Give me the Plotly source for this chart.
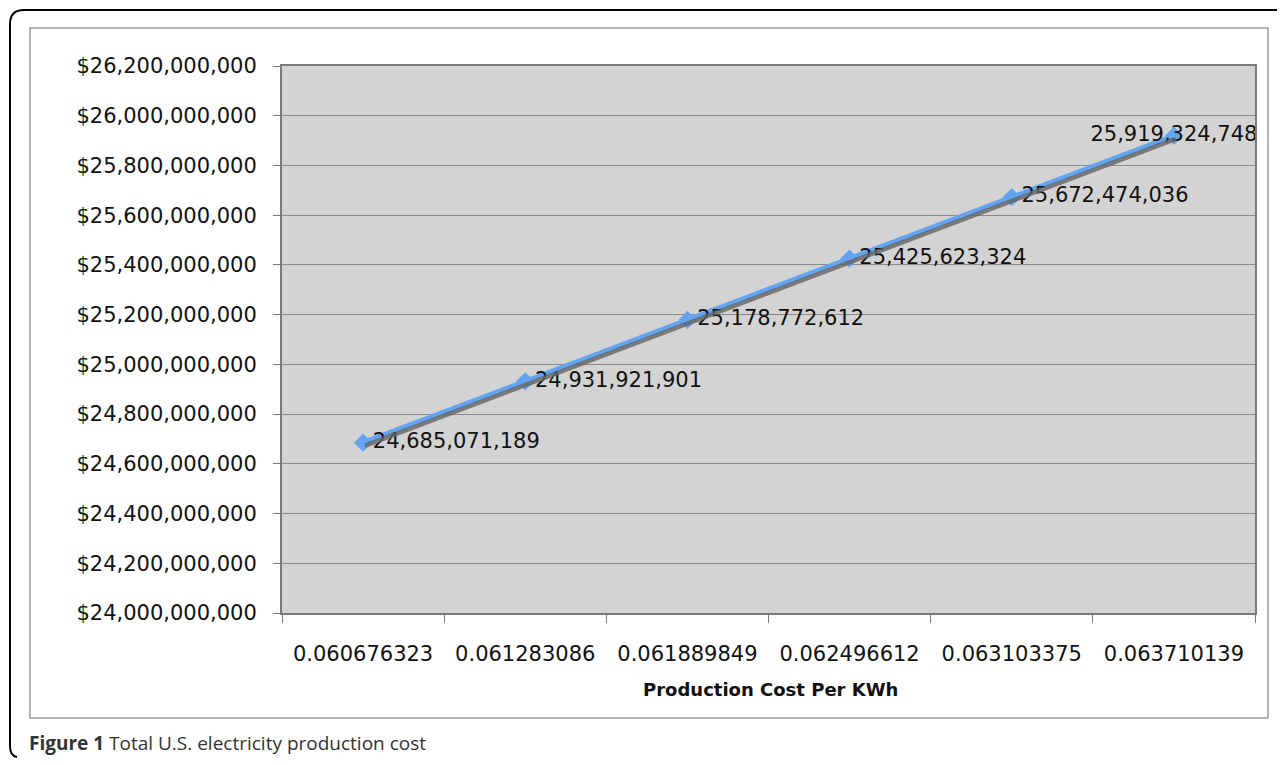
import plotly.graph_objects as go

# ---- data ----
categories = ["0.060676323", "0.061283086", "0.061889849", "0.062496612", "0.063103375", "0.063710139"]
total_cost = [24685071189, 24931921901, 25178772612, 25425623324, 25672474036, 25919324748]
label_pos = ["middle right", "middle right", "middle right", "middle right", "middle right", "middle center"]
x_title = "Production Cost Per KWh"
caption_bold = "Figure 1"
caption_text = "Total U.S. electricity production cost"

# ---- geometry (pixels, in screenshot coordinates) ----
OFF = 8                            # page body margin
W, H = 1285 - OFF, 765 - OFF       # figure size
L, R, T, B = 282, 1257, 66, 616    # outer extent of plot area incl. shadow offset
SX, SY = 2, 3                      # shadow offset
pw, ph = R - L, B - T

def px(x):
    return (x - L) / pw

def py(y):
    return (B - y) / ph

font_main = "DejaVu Sans"
blue = "#62A4F2"
grid = "#8a8a8a"

fig = go.Figure()

# shadow trace (second subplot offset by a few pixels)
fig.add_trace(go.Scatter(
    x=categories, y=total_cost, mode="lines",
    line=dict(color="rgba(100,100,100,0.8)", width=4.5),
    xaxis="x2", yaxis="y2", hoverinfo="skip", showlegend=False,
))
# main trace
fig.add_trace(go.Scatter(
    x=categories, y=total_cost, mode="lines+markers+text",
    line=dict(color=blue, width=5),
    marker=dict(symbol="diamond", size=14, color=blue),
    text=[f"{v:,}" for v in total_cost],
    textposition=label_pos,
    textfont=dict(family=font_main, size=21, color="#111111"),
    showlegend=False,
))

fig.update_layout(
    width=W, height=H,
    margin=dict(l=L - OFF, r=1285 - R, t=T - OFF, b=765 - B),
    paper_bgcolor="white",
    plot_bgcolor="rgba(0,0,0,0)",
    xaxis=dict(
        type="category", range=[-0.5, 5.5], domain=[0, (pw - SX) / pw],
        showgrid=False, showline=True, mirror=True, linecolor="#7a7a7a", linewidth=2,
        ticks="outside", tickson="boundaries", ticklen=8, tickcolor="#7a7a7a", tickwidth=1,
        tickfont=dict(family=font_main, size=21, color="#111111"),
        ticklabelstandoff=21, zeroline=False,
    ),
    yaxis=dict(
        range=[24.0e9, 26.2e9], dtick=0.2e9, tick0=24.0e9, domain=[SY / ph, 1],
        tickformat="$,.0f",
        showgrid=True, gridcolor=grid, gridwidth=1.2,
        showline=True, mirror=True, linecolor="#7a7a7a", linewidth=2,
        ticks="outside", ticklen=7, tickcolor="#7a7a7a", tickwidth=1,
        tickfont=dict(family=font_main, size=21, color="#111111"),
        ticklabelstandoff=12, zeroline=False,
    ),
    xaxis2=dict(
        type="category", range=[-0.5, 5.5], domain=[SX / pw, 1], anchor="y2",
        visible=False, showgrid=False,
    ),
    yaxis2=dict(
        range=[24.0e9, 26.2e9], domain=[0, (ph - SY) / ph], anchor="x2",
        visible=False, showgrid=False,
    ),
    shapes=[
        # plot area background
        dict(type="rect", xref="paper", yref="paper", layer="below",
             x0=0, x1=(pw - SX) / pw, y0=SY / ph, y1=1,
             fillcolor="#d3d3d3", line=dict(width=0)),
        # inner chart border
        dict(type="rect", xref="paper", yref="paper", layer="below",
             x0=px(30), x1=px(1268), y0=py(718), y1=py(28),
             fillcolor="rgba(0,0,0,0)", line=dict(color="#9a9a9a", width=1.5)),
        # outer rounded frame (left side)
        dict(type="path", xref="paper", yref="paper", layer="above",
             path=(f"M {px(1295)},{py(10)} L {px(24)},{py(10)} "
                   f"Q {px(10)},{py(10)} {px(10)},{py(24)} "
                   f"L {px(10)},{py(746)} Q {px(10)},{py(756)} {px(17)},{py(757)}"),
             line=dict(color="black", width=2)),
    ],
    annotations=[
        dict(text=f"<b>{x_title}</b>", xref="paper", yref="paper",
             x=px(770), y=py(689), xanchor="center", yanchor="middle", showarrow=False,
             font=dict(family=font_main, size=18, color="#111111")),
        dict(text=f"<b>{caption_bold}</b> {caption_text}", xref="paper", yref="paper",
             x=px(27), y=py(743), xanchor="left", yanchor="middle", showarrow=False,
             font=dict(family="Open Sans, sans-serif", size=19, color="#333333")),
    ],
)

fig.write_html("out.html")
